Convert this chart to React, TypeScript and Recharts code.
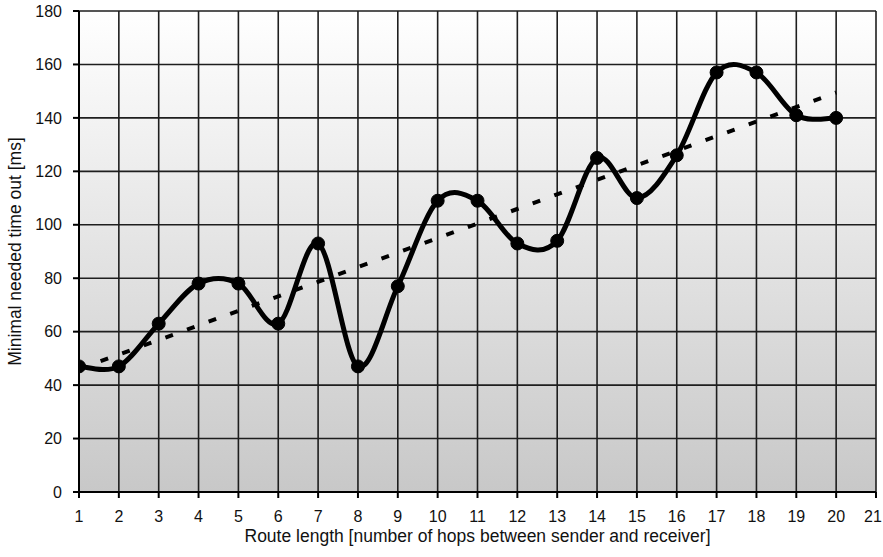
import React from 'react';
import { LineChart, Line, XAxis, YAxis, CartesianGrid, Label } from 'recharts';

const hops = [1, 2, 3, 4, 5, 6, 7, 8, 9, 10, 11, 12, 13, 14, 15, 16, 17, 18, 19, 20];
const timeoutMs = [47, 47, 63, 78, 78, 63, 93, 47, 77, 109, 109, 93, 94, 125, 110, 126, 157, 157, 141, 140];
const trendHops = [1, 20];
const trendMs = [46, 149.5];
const xTicks = [1, 2, 3, 4, 5, 6, 7, 8, 9, 10, 11, 12, 13, 14, 15, 16, 17, 18, 19, 20, 21];
const yTicks = [0, 20, 40, 60, 80, 100, 120, 140, 160, 180];

const mainData = hops.map((h, i) => ({ x: h, y: timeoutMs[i] }));
const trendData = trendHops.map((h, i) => ({ x: h, t: trendMs[i] }));

// Catmull-Rom style smoothing (similar to spreadsheet "smoothed line")
function smoothCurve(context: any) {
  let pts: number[][] = [];
  return {
    areaStart() {},
    areaEnd() {},
    lineStart() {
      pts = [];
    },
    point(x: number, y: number) {
      pts.push([+x, +y]);
    },
    lineEnd() {
      const n = pts.length;
      if (!n) return;
      context.moveTo(pts[0][0], pts[0][1]);
      for (let i = 0; i < n - 1; i++) {
        const p0 = pts[Math.max(i - 1, 0)];
        const p1 = pts[i];
        const p2 = pts[i + 1];
        const p3 = pts[Math.min(i + 2, n - 1)];
        const c1x = p1[0] + (p2[0] - p0[0]) / 6;
        const c1y = p1[1] + (p2[1] - p0[1]) / 6;
        const c2x = p2[0] - (p3[0] - p1[0]) / 6;
        const c2y = p2[1] - (p3[1] - p1[1]) / 6;
        context.bezierCurveTo(c1x, c1y, c2x, c2y, p2[0], p2[1]);
      }
    },
  };
}

const fontFamily = '"Liberation Sans", Arial, sans-serif';
const font = { fontFamily, fontSize: 16, fill: '#111' };
const titleFont = { fontFamily, fontSize: 17.5, fill: '#111' };

function XTick(props: any) {
  const { x, y, payload } = props;
  const shift = payload.value === 21 ? -3 : 0;
  return (
    <text
      x={x + shift}
      y={y + 2}
      dy="0.71em"
      textAnchor="middle"
      fontFamily={fontFamily}
      fontSize={16}
      fill="#111"
    >
      {payload.value}
    </text>
  );
}

export default function App() {
  return (
    <div style={{ position: 'absolute', left: 0, top: 0, width: 883, height: 557, background: '#fff' }}>
      <svg width={0} height={0} style={{ position: 'absolute' }}>
        <defs>
          <linearGradient id="bgGrad" x1="0" y1="0" x2="0" y2="1">
            <stop offset="0%" stopColor="#ffffff" />
            <stop offset="100%" stopColor="#c8c8c8" />
          </linearGradient>
        </defs>
      </svg>
      <LineChart
        width={883}
        height={557}
        margin={{ top: 11, right: 7, left: 0, bottom: 0 }}
      >
        <CartesianGrid
          stroke="#1e1e1e"
          strokeWidth={1.6}
          fill="url(#bgGrad)"
          fillOpacity={1}
        />
        <XAxis
          type="number"
          dataKey="x"
          domain={[1, 21]}
          ticks={xTicks}
          interval={0}
          height={65}
          tickSize={6}
          tickMargin={11}
          axisLine={{ stroke: '#000', strokeWidth: 2 }}
          tickLine={{ stroke: '#000', strokeWidth: 2 }}
          tick={<XTick />}
          allowDataOverflow
        >
          <Label
            value="Route length [number of hops between sender and receiver]"
            position="insideBottom"
            offset={15}
            style={{ ...titleFont, textAnchor: 'middle' }}
          />
        </XAxis>
        <YAxis
          type="number"
          domain={[0, 180]}
          ticks={yTicks}
          interval={0}
          width={79}
          tickSize={6}
          tickMargin={11}
          axisLine={{ stroke: '#000', strokeWidth: 2 }}
          tickLine={{ stroke: '#000', strokeWidth: 2 }}
          tick={font}
          allowDataOverflow
        >
          <Label
            value="Minimal needed time out [ms]"
            angle={-90}
            position="insideLeft"
            offset={15}
            style={{ ...titleFont, textAnchor: 'middle' }}
          />
        </YAxis>
        <Line
          data={mainData}
          dataKey="y"
          type={smoothCurve as any}
          stroke="#000"
          strokeWidth={5}
          dot={{ r: 6.5, fill: '#000', stroke: '#000', strokeWidth: 1 }}
          activeDot={false}
          isAnimationActive={false}
        />
        <Line
          data={trendData}
          dataKey="t"
          type="linear"
          stroke="#000"
          strokeWidth={4}
          strokeDasharray="8 15"
          dot={false}
          activeDot={false}
          isAnimationActive={false}
        />
      </LineChart>
    </div>
  );
}
